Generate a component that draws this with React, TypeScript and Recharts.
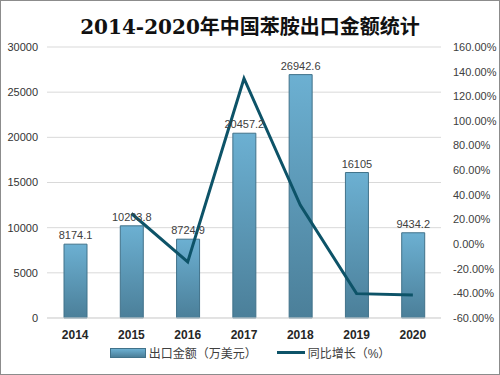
import { Bar, ComposedChart, CartesianGrid, LabelList, Line, XAxis, YAxis } from "recharts"

const years = ["2014", "2015", "2016", "2017", "2018", "2019", "2020"]
const exportValue = [8174.1, 10203.8, 8724.9, 20457.2, 26942.6, 16105, 9434.2]
const growth = [null, 24.83, -14.49, 134.47, 31.7, -40.22, -41.42]
const leftTicks = [0, 5000, 10000, 15000, 20000, 25000, 30000]
const rightTicks = [-60, -40, -20, 0, 20, 40, 60, 80, 100, 120, 140, 160]

const data = years.map((year, i) => ({
  year,
  value: exportValue[i],
  growth: growth[i],
}))

const sans = "'Liberation Sans', 'Noto Sans CJK SC', sans-serif"

function LegendBox() {
  return (
    <div style={{ position: "absolute", left: 0, top: 343, width: 498, display: "flex", justifyContent: "center", alignItems: "center", fontFamily: sans, fontSize: 12, color: "#404040" }}>
      <span style={{ display: "inline-block", width: 34, height: 8, background: "linear-gradient(#6cb0d2, #4b7f99)", border: "1px solid #41728a", marginRight: 3 }} />
      <span style={{ marginRight: 20 }}>出口金额（万美元）</span>
      <span style={{ display: "inline-block", width: 28, height: 3, background: "#0d5368", marginRight: 3 }} />
      <span>同比增长（%）</span>
    </div>
  )
}

export default function App() {
  return (
    <div style={{ position: "absolute", left: 0, top: 0, width: 500, height: 375, boxSizing: "border-box", border: "1px solid #8c8c8c", background: "#fff" }}>
      <div style={{ position: "absolute", left: 0, top: 10, width: 498, textAlign: "center", fontFamily: "'DejaVu Serif', 'Noto Sans CJK SC', serif", fontWeight: "bold", fontSize: 20, color: "#111" }}>
        2014-2020年中国苯胺出口金额统计
      </div>
      <ComposedChart width={498} height={373} data={data} margin={{ top: 46, right: 2, bottom: 26, left: 6 }}>
        <defs>
          <linearGradient id="barFill" x1="0" y1="0" x2="0" y2="1">
            <stop offset="0%" stopColor="#6cb0d2" />
            <stop offset="100%" stopColor="#4b7f99" />
          </linearGradient>
        </defs>
        <CartesianGrid yAxisId="left" vertical={false} stroke="#d9d9d9" />
        <XAxis
          dataKey="year"
          height={30}
          axisLine={{ stroke: "#d9d9d9" }}
          tickLine={false}
          tick={{ fontSize: 12, fontWeight: "bold", fill: "#262626", fontFamily: sans }}
          tickMargin={6}
        />
        <YAxis
          yAxisId="left"
          domain={[0, 30000]}
          ticks={leftTicks}
          width={40}
          axisLine={false}
          tickLine={false}
          tickMargin={3}
          tick={{ fontSize: 11, fill: "#333", fontFamily: sans }}
        />
        <YAxis
          yAxisId="right"
          orientation="right"
          domain={[-60, 160]}
          ticks={rightTicks}
          width={56}
          axisLine={false}
          tickLine={false}
          tickMargin={6}
          tickFormatter={(v) => `${v.toFixed(2)}%`}
          tick={{ fontSize: 11, fill: "#404040", fontFamily: sans }}
        />
        <Bar yAxisId="left" dataKey="value" barSize={23} fill="url(#barFill)" stroke="#41728a" strokeWidth={1} isAnimationActive={false}>
          <LabelList dataKey="value" position="top" fontSize={11} fill="#404040" fontFamily={sans} />
        </Bar>
        <Line
          yAxisId="right"
          dataKey="growth"
          type="linear"
          stroke="#0d5368"
          strokeWidth={3}
          dot={false}
          activeDot={false}
          connectNulls={false}
          isAnimationActive={false}
        />
      </ComposedChart>
      <LegendBox />
    </div>
  )
}
